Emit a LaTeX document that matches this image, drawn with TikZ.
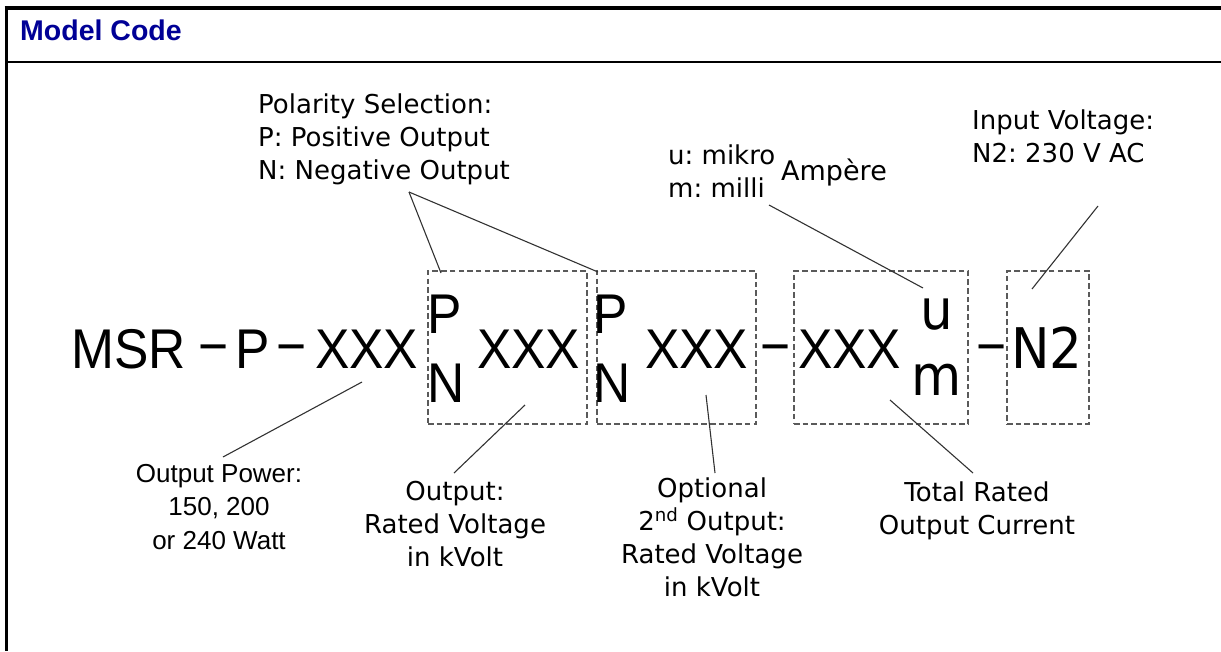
\documentclass[tikz,border=0pt]{standalone}
\usepackage{fontspec}
\usepackage{graphicx}
\setmainfont{DejaVu Sans}
\newfontfamily\codefont{Liberation Sans}
\newfontfamily\dvfont{DejaVu Sans}
\definecolor{titleblue}{RGB}{0,0,150}
\definecolor{boxgray}{RGB}{90,90,90}
\definecolor{linegray}{RGB}{50,50,50}
\newcommand\cx[1]{\scalebox{0.92}[1]{#1}}
\frenchspacing
\begin{document}
\begin{tikzpicture}[x=1pt,y=-1pt,
  code/.style={inner sep=0pt, anchor=base west, font=\codefont\fontsize{56}{56}\selectfont},
  codedv/.style={inner sep=0pt, anchor=base west, font=\dvfont\fontsize{56}{56}\selectfont},
  dbox/.style={draw=boxgray, line width=1.3pt, dash pattern=on 5.5pt off 3.2pt, inner sep=0pt},
  lbl/.style={inner sep=0pt, font=\dvfont\fontsize{26}{33}\selectfont},
  lbla/.style={inner sep=0pt, font=\codefont\fontsize{26}{33.5}\selectfont},
  conn/.style={draw=linegray, line width=1.1pt}]
\useasboundingbox (0,0) rectangle (1221,651);
% frame
\draw[line width=3.5pt] (4.5,8) -- (1221,8);
\draw[line width=2.5pt] (6.3,6.5) -- (6.3,651);
\draw[line width=2.5pt] (6.3,62) -- (1221,62);
\node[inner sep=0pt, anchor=base west, text=titleblue, font=\codefont\bfseries\fontsize{28.5}{30}\selectfont] (title) at (20,40) {Model Code};
% dashed boxes
\node[dbox, minimum width=159pt, minimum height=153pt] (b1) at (507.5,347.5) {};
\node[dbox, minimum width=159pt, minimum height=153pt] (b2) at (676.5,347.5) {};
\node[dbox, minimum width=174pt, minimum height=153pt] (b3) at (881,347.5) {};
\node[dbox, minimum width=82pt, minimum height=153pt] (b4) at (1048,347.5) {};
% code
\node[code] (msr) at (71,368) {\cx{MSR}};
\node[code] (d1) at (198,365) {\cx{−}};
\node[code] (p0) at (235,368) {\cx{P}};
\node[code] (d2) at (276,365) {\cx{−}};
\node[code] (x1) at (315,368) {\cx{XXX}};
\node[code] (p1) at (427,333) {\cx{P}};
\node[code] (n1) at (427,402) {\cx{N}};
\node[code] (x2) at (477,368) {\cx{XXX}};
\node[code] (p2) at (593,333) {\cx{P}};
\node[code] (n2) at (593,402) {\cx{N}};
\node[code] (x3) at (645,368) {\cx{XXX}};
\node[code] (d3) at (760,365) {\cx{−}};
\node[code] (x4) at (798,368) {\cx{XXX}};
\node[codedv] (u) at (920,329) {\cx{u}};
\node[codedv] (m) at (911,395) {\cx{m}};
\node[code] (d4) at (976,365) {\cx{−}};
\node[codedv] (nn) at (1011,368) {\cx{N2}};
% labels
\node[lbl, anchor=north west, align=left] (pol) at (258,94) {Polarity Selection:\\P: Positive Output\\N: Negative Output};
\node[lbl, anchor=north west, align=left] (um) at (668,145) {u: mikro\\m: milli};
\node[inner sep=0pt, anchor=base west, font=\dvfont\fontsize{27}{33}\selectfont] (amp) at (781,180) {Ampère};
\node[lbl, anchor=north west, align=left] (inv) at (972,110) {Input Voltage:\\N2: 230 V AC};
\node[lbla, anchor=north, align=center] (pow) at (219,464) {Output Power:\\150, 200\\or 240 Watt};
\node[lbl, anchor=north, align=center] (out1) at (455,480.5) {Output:\\Rated Voltage\\in kVolt};
\node[lbl, anchor=north, align=center] (out2) at (712,478) {Optional\\2\textsuperscript{nd} Output:\\Rated Voltage\\in kVolt};
\node[lbl, anchor=north, align=center] (cur) at (977,482) {Total Rated\\Output Current};
% connector ends
\coordinate (polc) at (409,192);
\coordinate (b1t) at (441,273);
\coordinate (b2t) at (598,272);
\coordinate (umc) at (769,205);
\coordinate (ut) at (923,288);
\coordinate (invc) at (1098,206);
\coordinate (nt) at (1032,289);
\coordinate (powc) at (223,457);
\coordinate (x1b) at (362,382);
\coordinate (out1c) at (454,473);
\coordinate (x2b) at (525,405);
\coordinate (out2c) at (715,473);
\coordinate (x3b) at (706,395);
\coordinate (curc) at (973,473);
\coordinate (x4b) at (890,400);
% connectors
\draw[conn] (polc) -- (b1t);
\draw[conn] (polc) -- (b2t);
\draw[conn] (umc) -- (ut);
\draw[conn] (invc) -- (nt);
\draw[conn] (powc) -- (x1b);
\draw[conn] (out1c) -- (x2b);
\draw[conn] (out2c) -- (x3b);
\draw[conn] (curc) -- (x4b);
\end{tikzpicture}
\end{document}
